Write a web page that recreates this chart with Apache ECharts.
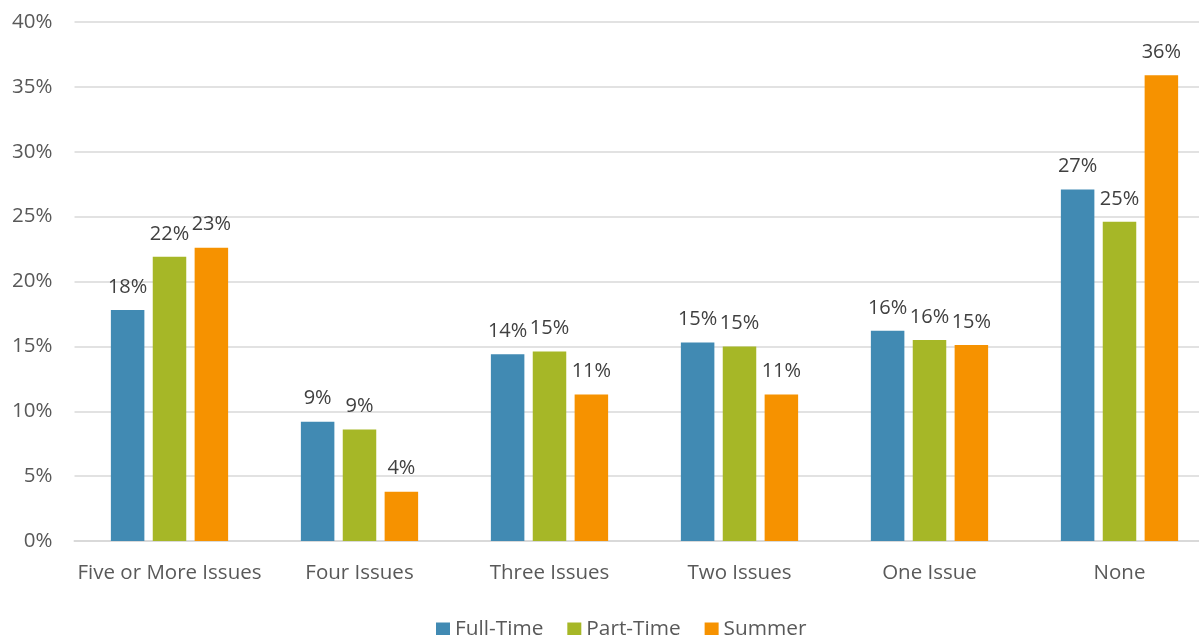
<!DOCTYPE html>
<html><head><meta charset="utf-8">
<script src="https://cdn.jsdelivr.net/npm/echarts@6/dist/echarts.min.js"></script>
<style>html,body{margin:0;padding:0;background:#fff;overflow:hidden;width:1199px;height:635px}#c{width:1215px;height:635px}</style>
</head><body><div id="c"></div>
<script>
const categories = ['Five or More Issues','Four Issues','Three Issues','Two Issues','One Issue','None'];
const fullTime = [17.8, 9.2, 14.4, 15.3, 16.2, 27.1];
const partTime = [21.9, 8.6, 14.6, 15.0, 15.5, 24.6];
const summer   = [22.6, 3.8, 11.3, 11.3, 15.1, 35.9];
const seriesNames = ['Full-Time','Part-Time','Summer'];
const colors = ['#418AB3','#A6B727','#F69200'];
const font = '"Open Sans", "Noto Sans", sans-serif';
const chart = echarts.init(document.getElementById('c'));
const mk = (name, data, color) => ({
  name, type:'bar', data, barWidth:33.5, barGap:'25%',
  itemStyle:{color},
  label:{show:true, position:'top', distance:13, formatter: p => Math.round(p.value)+'%', color:'#404040', fontSize:20, fontFamily:font}
});
chart.setOption({
  animation:false,
  grid:{left:74.5, top:22, right:0.5, height:519, containLabel:false},
  legend:{top:614, left:431, itemWidth:14, itemHeight:14, itemGap:24, icon:'rect',
    textStyle:{color:'#595959', fontSize:20.8, fontFamily:font}},
  xAxis:{type:'category', data:categories,
    axisLine:{lineStyle:{color:'#D9D9D9', width:2}}, axisTick:{show:false},
    axisLabel:{color:'#595959', fontSize:20.5, fontFamily:font, margin:22, interval:0}},
  yAxis:{type:'value', min:0, max:40, interval:5,
    axisLabel:{formatter:'{value}%', color:'#595959', fontSize:20.5, fontFamily:font, margin:22},
    splitLine:{lineStyle:{color:'#D9D9D9', width:1.5}}, axisLine:{show:false}, axisTick:{show:false}},
  series:[mk(seriesNames[0], fullTime, colors[0]), mk(seriesNames[1], partTime, colors[1]), mk(seriesNames[2], summer, colors[2])]
});
</script></body></html>
